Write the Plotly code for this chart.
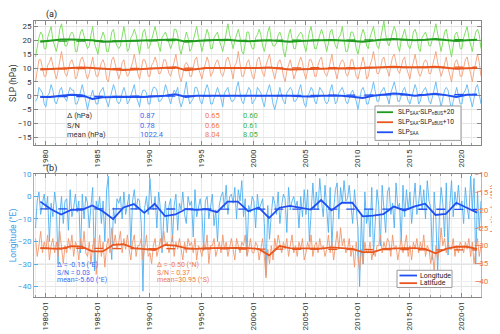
import pandas as pd
import plotly.graph_objects as go

# ---- data ----
years = list(range(1979, 2022))

# bimonthly anomalies (hPa), Jan/Mar/May/Jul/Sep/Nov
slp_saa = [
    -2, -1, 3, 2, 1, -3,   -4, 0, 1, 4, 2, -2,   -3, -1, 2, 3, 0, -1,   -2, 1, 3, 2, 2, -3,
    -3, -1, 2, 4, 1, -2,   -5, -2, 0, 2, -1, -3, -3, 1, 2, 3, 0, -2,    -4, -1, 2, 4, 2, -2,
    -3, -2, 1, 3, 1, -3,   -2, 0, 2, 4, 0, -2,   -4, 0, 2, 2, 1, -3,    -3, 1, 3, 3, 2, -2,
    -2, -1, 1, 4, 2, -1,   -3, 0, 2, 1, 3, -2,   -4, -2, 1, 5, 0, -3,   -2, -1, 3, 3, 1, -2,
    -3, 0, 2, 4, 2, -3,    -3, -1, 1, 3, 1, -1,  -4, 1, 2, 3, 0, -2,    -2, -1, 3, 5, 1, -2,
    -3, 0, 1, 3, 2, -3,    -2, -1, 3, 2, 1, -2,  -4, 0, 2, 4, 1, -3,    -5, -2, 1, 3, 0, -2,
    -3, 1, 2, 3, 2, -2,    -2, -1, 2, 4, 0, -3,  -4, 0, 1, 3, 2, -2,    -3, 0, 3, 2, 1, -2,
    -3, -2, 2, 4, 1, -3,   -2, 1, 2, 3, 1, -2,   -3, -1, 1, 2, 0, -2,   -5, -2, 2, 3, 1, -3,
    -3, 0, 2, 5, 2, -2,    -2, 1, 2, 3, 1, -1,   -3, 1, 3, 5, 2, -2,    -2, 0, 2, 3, 0, -2,
    -3, -1, 2, 4, 2, -3,   -2, 1, 2, 3, 1, -2,   -3, 0, 3, 5, 1, -1,    -4, -1, 2, 3, 2, -2,
    -5, -2, 1, 3, 0, -3,   -3, 1, 2, 4, 1, -2,   -4, -1, 3, 4, 1, -3,
]
slp_saa_sbus = [
    -5, -1, 3, 3, 0, -3,   -3, 1, 2, 4, 1, -2,   -4, -1, 3, 6, 2, -2,   -3, 0, 2, 3, 1, -4,
    -3, 0, 3, 4, 2, -2,    -4, -2, 1, 4, 0, -3,  -3, 0, 2, 3, 1, -4,    -5, -1, 3, 4, 1, -2,
    -4, -2, 2, 3, -1, -3,  -2, 0, 2, 5, 1, -2,   -4, -1, 3, 3, 1, -3,   -3, 1, 2, 4, 2, -2,
    -2, 0, 3, 3, 0, -2,    -3, 0, 2, 5, 1, -3,   -5, -2, 1, 2, 1, -3,   -3, 0, 3, 4, 0, -2,
    -4, -1, 2, 4, 2, -3,   -2, 0, 2, 3, 1, -2,   -3, -1, 3, 4, 2, -1,   -4, 1, 2, 6, 1, -3,
    -3, -1, 2, 3, 0, -3,   -4, 0, 3, 4, 1, -2,   -3, 1, 3, 5, 1, -2,    -4, -1, 2, 3, 1, -3,
    -5, -1, 1, 3, 0, -4,   -2, 0, 2, 4, 2, -2,   -4, -1, 3, 3, 1, -3,   -3, 1, 3, 4, 0, -2,
    -3, -1, 2, 5, 1, -2,   -4, 0, 2, 3, 2, -2,   -3, -1, 3, 3, 0, -3,   -4, -1, 2, 4, 1, -4,
    -3, 1, 3, 6, 2, -2,    -2, 0, 3, 4, 1, -1,   -3, 1, 4, 5, 2, -1,    -2, 0, 3, 4, 0, -2,
    -4, 0, 2, 5, 1, -2,    -3, -1, 2, 3, 2, -2,  -2, 1, 3, 6, 2, -1,    -3, -1, 2, 4, 0, -3,
    -5, -1, 2, 3, 1, -3,   -3, 0, 3, 4, 1, -1,   -5, -1, 2, 5, 2, -3,
]
slp_saa_nbus = [
    -6, -2, 1, 3, 2, -3,   -3, 1, 3, 5, 0, -2,   -4, -1, 4, 6, 1, -2,   -2, 0, 2, 3, 2, -4,
    -4, 0, 3, 4, 1, -1,    -3, -2, 2, 5, -1, -3, -5, -1, 1, 3, 1, -4,   -4, 0, 3, 4, 0, -2,
    -3, -2, 2, 5, 1, -4,   -3, 1, 2, 4, 2, -2,   -5, -1, 3, 4, 0, -3,   -2, 0, 3, 5, 2, -2,
    -4, 1, 2, 3, 1, -1,    -3, -1, 4, 4, 2, -3,  -5, -2, 0, 3, 1, -4,   -3, 0, 3, 5, 1, -1,
    -4, -1, 2, 4, 2, -3,   -3, 1, 2, 3, 0, -2,   -4, -1, 3, 6, 2, -1,   -3, 0, 2, 4, 1, -4,
    -5, -1, 3, 3, -1, -3,  -3, 1, 2, 4, 2, -2,   -4, -1, 3, 5, 0, -2,   -2, -1, 2, 3, 1, -4,
    -6, -2, 2, 4, 0, -3,   -3, 1, 2, 3, 2, -2,   -4, 0, 3, 5, 1, -3,    -3, 0, 2, 4, 2, -1,
    -4, -1, 3, 4, 1, -2,   -3, 1, 2, 5, 0, -4,   -4, -1, 3, 3, 1, -3,   -5, -2, 2, 4, 2, -2,
    -3, 1, 3, 5, 1, -2,    -3, 0, 4, 7, 2, -1,   -2, 1, 3, 5, 3, -2,    -4, 0, 2, 4, 1, -2,
    -3, -1, 3, 4, 2, -3,   -4, 1, 2, 3, 1, -2,   -2, 0, 3, 6, 2, -1,    -4, -1, 3, 4, 0, -3,
    -6, -1, 2, 3, 1, -3,   -3, 1, 3, 5, 1, -2,   -4, 0, 3, 4, 2, -3,
]

# annual means (thick lines)
saa_annual = [-0.5, -0.5, 0.0, 0.3, 0.2, -1.2, -0.6, -0.5, -0.5, -0.4, -0.5, -0.3, 0.0, 0.5, -0.5,
              0.0, 0.0, 0.1, 0.0, 0.0, -0.1, 0.0, 0.0, 0.0, 0.0, -0.2, -0.3, 0.0, 0.1, 0.0,
              -0.4, -0.8, 0.0, 0.4, 0.8, 0.5, 0.0, 0.3, 0.7, 0.2, -0.5, 0.3, 0.3]
sbus_annual = [9.5, 9.7, 10.0, 10.1, 10.2, 10.0, 9.8, 9.5, 9.3, 9.5, 9.7, 9.8, 10.0, 10.3, 9.2,
               9.7, 10.0, 10.0, 10.0, 9.9, 9.8, 10.0, 10.2, 9.9, 9.5, 9.6, 9.7, 9.9, 10.0, 9.9,
               9.8, 10.0, 10.3, 10.4, 10.5, 10.3, 10.2, 10.3, 10.5, 10.1, 9.7, 9.9, 10.0]
nbus_annual = [19.5, 19.8, 20.3, 20.3, 20.2, 20.0, 19.5, 19.6, 19.7, 19.8, 19.9, 20.0, 20.1, 20.3, 19.5,
               19.8, 20.0, 20.1, 20.2, 19.9, 19.7, 19.9, 20.0, 19.8, 19.5, 19.8, 20.0, 20.0, 20.1, 20.0,
               19.8, 19.5, 20.0, 20.3, 20.5, 20.2, 20.0, 20.2, 20.5, 20.1, 19.8, 20.0, 20.2]

# linear trends (start, end)
saa_trend = [-0.4, 0.45]
sbus_trend = [9.7, 10.35]
nbus_trend = [19.7, 20.3]

# bimonthly SAA centre position
lon = [
    -14, -2, 2, -8, -3, 1,     -6, 0, -20, -3, -9, 2,      -4, -30, -8, 0, -12, -2,    -1, -15, 3, -9, -5, 1,
    -7, -2, -25, 1, -10, 0,    -3, -14, -4, 4, -33, -2,    -6, 0, -12, -2, -20, 3,     9, -18, -28, -5, -12, -1,
    -3, 0, -10, 2, -8, -4,     1, -22, -2, 3, -6, -1,      -2, -12, -42, -5, 0, -8,    8, -3, -6, 0, -14, 2,
    -5, -25, -10, -2, -16, -4, -1, -20, -4, 1, -15, -3,    -6, 2, -8, -12, 0, -4,      -2, -18, 3, -9, -5, -1,
    -7, -24, -2, 0, -10, -3,   1, -13, -6, -20, -4, 0,     2, -5, 5, -8, 0, 1,         -3, 4, -10, 3, -2, 7,
    -9, -1, -26, -4, -7, 0,    -2, -14, 1, -6, -3, -1,     -12, -35, -4, -19, -8, 0,   -3, -8, 2, -12, -4, 1,
    -1, -16, 4, -6, -2, 0,     -5, -2, -14, 0, -9, 3,      -8, 3, -20, -4, 6, -6,      2, -6, 8, -2, -9, 5,
    -4, -16, 4, -22, -6, 3,    6, -10, 4, -3, 7, -2,       -1, 5, -4, -12, 3, -5,      -14, -40, -8, -30, 2, -12,
    -6, -18, 4, -26, -8, 3,    -4, -22, 5, -5, -16, 2,     4, -8, -3, -14, 6, -5,      -3, -20, 5, -9, 3, -6,
    2, -12, -4, 6, -8, -3,     5, -6, 3, -10, 7, -2,       -5, -28, 2, -10, -34, -8,   4, -3, -18, 6, -26, -4,
    7, -9, 2, -4, 5, -6,       -2, -12, 4, -5, -10, 9,     -6, 8, -30, 2, -15, -2,
]
lat = [
    -28, -33, -30, -26, -32, -29,  -31, -27, -34, -30, -28, -32,  -29, -33, -26, -31, -35, -30,  -32, -28, -31, -27, -33, -29,
    -30, -34, -28, -31, -26, -32,  -33, -29, -35, -30, -28, -38,  -31, -27, -33, -29, -36, -30,  -28, -32, -25, -30, -27, -31,
    -29, -26, -32, -28, -31, -27,  -31, -34, -29, -27, -33, -30,  -30, -28, -34, -31, -27, -33,  -32, -35, -30, -28, -33, -31,
    -28, -31, -26, -30, -29, -32,  -30, -27, -33, -29, -31, -28,  -31, -34, -29, -32, -28, -30,  -29, -32, -28, -34, -30, -31,
    -33, -29, -31, -27, -35, -30,  -30, -28, -33, -31, -29, -32,  -27, -31, -29, -33, -30, -28,  -31, -34, -28, -30, -32, -29,
    -30, -27, -33, -31, -28, -32,  -32, -29, -30, -34, -31, -28,  -33, -39, -31, -35, -30, -34,  -28, -31, -27, -30, -32, -29,
    -31, -28, -33, -30, -27, -32,  -30, -33, -29, -31, -28, -34,  -32, -29, -31, -27, -33, -30,  -29, -32, -28, -31, -30, -33,
    -31, -27, -32, -29, -34, -30,  -26, -31, -25, -30, -28, -32,  -31, -28, -33, -30, -36, -29,  -33, -37, -31, -35, -29, -32,
    -32, -29, -34, -31, -33, -30,  -30, -27, -32, -29, -31, -28,  -29, -33, -27, -31, -30, -34,  -31, -28, -32, -30, -27, -33,
    -30, -34, -29, -31, -28, -32,  -29, -31, -27, -33, -30, -31,  -35, -32, -37, -30, -34, -31,  -25, -30, -28, -32, -29, -31,
    -31, -28, -33, -30, -32, -29,  -30, -32, -29, -31, -28, -33,  -29, -35, -31, -28, -33, -30,
]
lon_annual = [-2.3, -5.6, -8.0, -5.9, -5.9, -4.0, -6.6, -10.0, -4.9, -3.4, -7.3, -3.3, -8.7, -8.0, -5.6,
              -5.9, -5.6, -7.0, -2.3, -2.3, -6.6, -4.9, -9.5, -5.0, -4.2, -5.0, -5.8, -1.6, -6.2, -2.8,
              -2.8, -8.8, -8.5, -7.8, -4.5, -6.2, -4.4, -3.2, -8.2, -7.7, -2.8, -5.0, -7.2]
lat_annual = [-30.7, -30.8, -30.9, -30.1, -30.3, -31.6, -31.6, -29.8, -29.6, -30.7, -30.9, -31.2, -29.8, -30.0, -30.7,
              -30.9, -30.7, -30.6, -30.5, -30.6, -30.7, -30.9, -32.7, -30.1, -30.7, -30.7, -30.9, -30.8, -30.5, -30.7,
              -30.9, -31.8, -31.8, -30.9, -30.7, -30.7, -30.7, -30.9, -32.1, -30.9, -30.3, -30.3, -30.9]
lon_trend = [-5.5, -5.7]
lat_trend = [-30.7, -31.2]

stat_labels = ["\u0394 (hPa)", "S/N", "mean (hPa)"]
saa_stats = ["0.87", "0.78", "1022.4"]
sbus_stats = ["0.65", "0.66", "8.04"]
nbus_stats = ["0.60", "0.61", "8.05"]
lon_stats = ["\u0394 = -0.15 (\u00b0E)", "S/N = 0.03", "mean=-5.60 (\u00b0E)"]
lat_stats = ["\u0394 = -0.50 (\u00b0N)", "S/N = 0.37", "mean=30.95 (\u00b0S)"]

# ---- dates ----
t_bi = pd.date_range("1979-01-01", periods=len(slp_saa), freq="2MS") + pd.Timedelta(days=14)
t_yr = pd.to_datetime([f"{y}-07-01" for y in years])
t_tr = [t_yr[0], t_yr[-1]]

GREEN_L, GREEN_D = "#74dc55", "#1f9a1f"
ORANGE_L, ORANGE_D = "#f4a07c", "#e8561e"
BLUE_L, BLUE_D = "#62b8f2", "#1f4ff0"
FONT = "Roboto"

fig = go.Figure()

# panel (a): light series first, then the thick ones
for anom, off, col in [(slp_saa_nbus, 20, GREEN_L), (slp_saa_sbus, 10, ORANGE_L), (slp_saa, 0, BLUE_L)]:
    fig.add_trace(go.Scatter(x=t_bi, y=[v + off for v in anom], mode="lines",
                             line=dict(color=col, width=0.9), showlegend=False, xaxis="x", yaxis="y"))
top_series = [
    (nbus_annual, nbus_trend, GREEN_D, "SLP<sub>SAA</sub>-SLP<sub>nBUS</sub>+20"),
    (sbus_annual, sbus_trend, ORANGE_D, "SLP<sub>SAA</sub>-SLP<sub>sBUS</sub>+10"),
    (saa_annual, saa_trend, BLUE_D, "SLP<sub>SAA</sub>"),
]
for ann_v, tr, col, name in top_series:
    fig.add_trace(go.Scatter(x=t_tr, y=tr, mode="lines", line=dict(color=col, width=1.3, dash="dash"),
                             showlegend=False, xaxis="x", yaxis="y"))
    fig.add_trace(go.Scatter(x=t_yr, y=ann_v, mode="lines", line=dict(color=col, width=2),
                             name=name, showlegend=False, xaxis="x", yaxis="y"))

# panel (b)
fig.add_trace(go.Scatter(x=t_bi, y=lon, mode="lines", line=dict(color="#4fb0f0", width=0.9),
                         showlegend=False, xaxis="x2", yaxis="y2"))
fig.add_trace(go.Scatter(x=t_bi, y=lat, mode="lines", line=dict(color="#f2966c", width=0.9),
                         showlegend=False, xaxis="x2", yaxis="y3"))
fig.add_trace(go.Scatter(x=t_tr, y=lon_trend, mode="lines", line=dict(color=BLUE_D, width=1.3, dash="dash"),
                         showlegend=False, xaxis="x2", yaxis="y2"))
fig.add_trace(go.Scatter(x=t_tr, y=lat_trend, mode="lines", line=dict(color=ORANGE_D, width=1.3, dash="dash"),
                         showlegend=False, xaxis="x2", yaxis="y3"))
fig.add_trace(go.Scatter(x=t_yr, y=lon_annual, mode="lines", line=dict(color=BLUE_D, width=1.8),
                         name="Longitude", showlegend=False, xaxis="x2", yaxis="y2"))
fig.add_trace(go.Scatter(x=t_yr, y=lat_annual, mode="lines", line=dict(color=ORANGE_D, width=1.8),
                         name="Latitude", showlegend=False, xaxis="x2", yaxis="y3"))

xr = ["1978-11-22", "2021-11-15"]
grid = "#e4e4e4"
xcommon = dict(type="date", range=xr, tick0="1980-01-01", dtick="M60", tickangle=-90,
               ticks="inside", ticklen=4, tickcolor="#888", showline=True, linecolor="#888", mirror="ticks",
               showgrid=True, gridcolor=grid, tickfont=dict(size=8, color="#333"),
               minor=dict(dtick="M12", ticks="inside", ticklen=2.5, tickcolor="#999",
                          showgrid=True, gridcolor="#eeeeee"))

fig.update_layout(
    width=500, height=334, autosize=False,
    margin=dict(l=26, r=27, t=13, b=32),
    plot_bgcolor="white", paper_bgcolor="white",
    font=dict(family=FONT, size=8, color="#333"),
    showlegend=False,
    xaxis=dict(xcommon, domain=[0, 1], anchor="y", tickformat="%Y"),
    yaxis=dict(domain=[0.55, 1], anchor="x", range=[-17.9, 27], tick0=0, dtick=5,
               ticks="inside", ticklen=4, tickcolor="#888", showline=True, linecolor="#888", mirror="ticks",
               showgrid=True, gridcolor=grid, zeroline=False, tickfont=dict(size=8, color="#333"),
               title=dict(text="SLP (hPa)", font=dict(size=8.5, color="#333"), standoff=2), automargin=False),
    xaxis2=dict(xcommon, domain=[0, 1], anchor="y2", tickformat="%Y-%m"),
    yaxis2=dict(domain=[0, 0.446], anchor="x2", range=[-44.6, 10], tick0=0, dtick=10,
                ticks="inside", ticklen=4, tickcolor="#4fb0f0", showline=True, linecolor="#7cc0ee",
                showgrid=True, gridcolor=grid, zeroline=False, tickfont=dict(size=8, color="#3a9de6"),
                title=dict(text="Longitude (\u00b0E)", font=dict(size=8.5, color="#3a9de6"), standoff=2),
                automargin=False),
    yaxis3=dict(overlaying="y2", side="right", anchor="x2", range=[-44.3, -10], tick0=0, dtick=5,
                ticks="inside", ticklen=4, tickcolor="#f2966c", showline=True, linecolor="#f2a47f",
                showgrid=True, gridcolor="#efefef", zeroline=False, tickfont=dict(size=8, color="#ef7a45"),
                ticklabelstandoff=-9, automargin=False),
)


def px_x(p):
    return (p - 26) / 447


def px_y(p):
    return 1 - (p - 13) / 289


ann = []
shapes = []
ann.append(dict(text="(a)", x=px_x(36), y=px_y(6), xref="paper", yref="paper", xanchor="left",
                yanchor="middle", showarrow=False, font=dict(size=9, color="#222")))
ann.append(dict(text="(b)", x=px_x(36), y=px_y(167), xref="paper", yref="paper", xanchor="left",
                yanchor="middle", showarrow=False, font=dict(size=9, color="#222")))
ann.append(dict(text="Latitude (\u00b0N)", x=px_x(494), y=px_y(237), xref="paper", yref="paper",
                textangle=-90, showarrow=False, font=dict(size=8.5, color="#ef7a45")))

# statistics table, panel (a)
for i, yy in enumerate([112, 122, 132]):
    for xx, txt, col in [(57, stat_labels[i], "#333"), (130, saa_stats[i], "#3b6cf2"),
                         (195, sbus_stats[i], "#f07a48"), (233, nbus_stats[i], "#3cb43c")]:
        ann.append(dict(text=txt, x=px_x(xx), y=px_y(yy), xref="paper", yref="paper", xanchor="left",
                        yanchor="middle", showarrow=False, font=dict(size=7.5, color=col)))
# statistics, panel (b)
for i, yy in enumerate([269, 276.5, 284]):
    ann.append(dict(text=lon_stats[i], x=px_x(47), y=px_y(yy), xref="paper", yref="paper", xanchor="left",
                    yanchor="middle", showarrow=False, font=dict(size=7, color="#3b6cf2")))
    ann.append(dict(text=lat_stats[i], x=px_x(147), y=px_y(yy), xref="paper", yref="paper", xanchor="left",
                    yanchor="middle", showarrow=False, font=dict(size=7, color="#f07a48")))


# legends (compact boxes like the original)
def legend_box(x0, x1, y0, y1, entries, lx0, lx1, tx, ys, fsize):
    shapes.append(dict(type="rect", xref="paper", yref="paper", x0=px_x(x0), x1=px_x(x1),
                       y0=px_y(y1), y1=px_y(y0), fillcolor="white", line=dict(color="#999", width=1), layer="above"))
    for (name, col), yy in zip(entries, ys):
        shapes.append(dict(type="line", xref="paper", yref="paper", x0=px_x(lx0), x1=px_x(lx1),
                           y0=px_y(yy), y1=px_y(yy), line=dict(color=col, width=1.8), layer="above"))
        ann.append(dict(text=name, x=px_x(tx), y=px_y(yy), xref="paper", yref="paper", xanchor="left",
                        yanchor="middle", showarrow=False, font=dict(size=fsize, color="#222")))


legend_box(367, 453, 102, 138, [(s[3], s[2]) for s in top_series], 369, 385, 388, [108.5, 119, 129.5], 6.6)
legend_box(389, 444, 274, 292, [("Longitude", BLUE_D), ("Latitude", ORANGE_D)], 391.5, 409, 410, [279.5, 287.5], 7)

fig.update_layout(annotations=ann, shapes=shapes)

fig.write_html("out.html")
